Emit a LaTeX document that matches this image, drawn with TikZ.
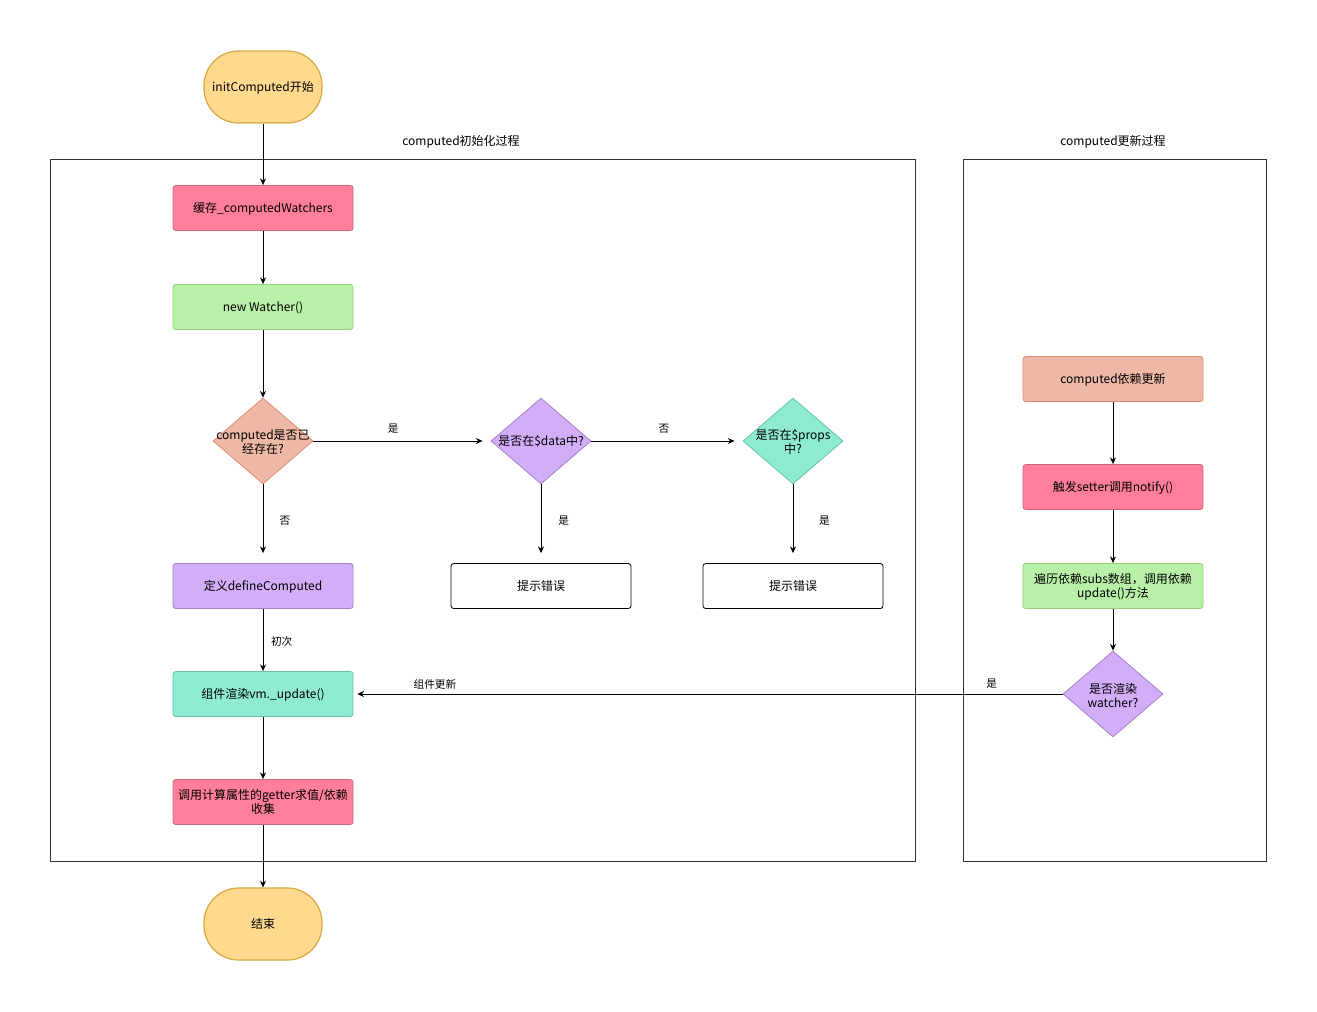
\documentclass[tikz,border=0pt]{standalone}
\usepackage{fontspec}
\setmainfont{Noto Sans CJK SC}
\usetikzlibrary{arrows.meta, positioning, shapes.geometric}

\definecolor{termfill}{HTML}{FFD98E}
\definecolor{termline}{HTML}{D6A840}
\definecolor{pinkfill}{HTML}{FF7F9B}
\definecolor{pinkline}{HTML}{C8667C}
\definecolor{greenfill}{HTML}{B9F0A8}
\definecolor{greenline}{HTML}{97D077}
\definecolor{salmonfill}{HTML}{EEB8A6}
\definecolor{salmonline}{HTML}{E08B6E}
\definecolor{purplefill}{HTML}{D3AEF8}
\definecolor{purpleline}{HTML}{A680C8}
\definecolor{tealfill}{HTML}{8EEBD2}
\definecolor{tealline}{HTML}{67C4A8}

\begin{document}
\begin{tikzpicture}[x=0.75pt,y=-0.75pt,font=\fontsize{9}{10.5}\selectfont,
  flow/.style={->,>={Stealth[length=5pt,width=4.5pt]},line width=0.75pt,black},
  frame/.style={draw=black!80,line width=0.75pt},
  term/.style={rectangle,rounded corners=26pt,minimum width=88.5pt,minimum height=54pt,line width=0.9pt,text height=7pt,text depth=1pt},
  procbox/.style={rectangle,rounded corners=2pt,minimum width=135pt,minimum height=33.75pt,align=center,inner sep=1pt,line width=0.6pt,text height=7pt,text depth=1pt},
  twoline/.style={text height=17.5pt},
  decision/.style={diamond,aspect=1.16,minimum width=75pt,minimum height=64.5pt,inner sep=0pt,line width=0.6pt},
  lbl/.style={font=\fontsize{8}{9}\selectfont,inner sep=0pt}]

  \useasboundingbox (0,0) rectangle (1317,1011);

  % frames
  \draw[frame] (50,159) rectangle (915,861);
  \draw[frame] (963,159) rectangle (1266,861);
  \node (inittitle) at (461,142) {computed初始化过程};
  \node (updtitle) at (1113,142) {computed更新过程};

  % left column
  \node[term,fill=termfill,draw=termline] (start) at (263,87) {initComputed开始};
  \node[procbox,fill=pinkfill,draw=pinkline] (cache) at (263,208) {缓存\_computedWatchers};
  \node[procbox,fill=greenfill,draw=greenline] (watcher) at (263,307) {new Watcher()};
  \node[decision,fill=salmonfill,draw=salmonline,label={[align=center,yshift=-1pt]center:computed是否已\\经存在?}] (exists) at (263,441) {};
  \node[decision,fill=purplefill,draw=purpleline,label={center:是否在\$data中?}] (indata) at (541,441) {};
  \node[decision,fill=tealfill,draw=tealline,label={[align=center,yshift=-1pt]center:是否在\$props\\中?}] (inprops) at (793,441) {};
  \node[procbox,fill=purplefill,draw=purpleline] (define) at (263,586) {定义defineComputed};
  \node[procbox,fill=white,draw=black] (err1) at (541,586) {提示错误};
  \node[procbox,fill=white,draw=black] (err2) at (793,586) {提示错误};
  \node[procbox,fill=tealfill,draw=tealline] (render) at (263,694) {组件渲染vm.\_update()};
  \node[procbox,twoline,fill=pinkfill,draw=pinkline] (getter) at (263,802) {调用计算属性的getter求值/依赖\\收集};
  \node[term,fill=termfill,draw=termline] (stop) at (263,924) {结束};

  % right column
  \node[procbox,fill=salmonfill,draw=salmonline] (depupd) at (1113,379) {computed依赖更新};
  \node[procbox,fill=pinkfill,draw=pinkline] (notify) at (1113,487) {触发setter调用notify()};
  \node[procbox,twoline,fill=greenfill,draw=greenline] (subs) at (1113,586) {遍历依赖subs数组，调用依赖\\update()方法};
  \node[decision,fill=purplefill,draw=purpleline,label={[align=center,yshift=-1pt]center:是否渲染\\watcher?}] (isrender) at (1113,694) {};

  \path[flow]
    (start) edge (cache)
    (cache) edge (watcher)
    (watcher) edge (exists)
    (exists) edge[shorten >=6pt] node[lbl,pos=0.45,yshift=9.5pt] {是} (indata)
             edge[shorten >=7.5pt] node[lbl,midway,xshift=16.5pt,yshift=2.5pt] {否} (define)
    (indata) edge[shorten >=6pt] node[lbl,pos=0.48,yshift=9.5pt] {否} (inprops)
             edge[shorten >=7.5pt] node[lbl,midway,xshift=17pt,yshift=2.5pt] {是} (err1)
    (inprops) edge[shorten >=7.5pt] node[lbl,midway,xshift=23.5pt,yshift=2.5pt] {是} (err2)
    (define) edge node[lbl,midway,xshift=14pt,yshift=-1pt] {初次} (render)
    (render) edge (getter)
    (getter) edge (stop)
    (depupd) edge (notify)
    (notify) edge (subs)
    (subs) edge (isrender)
    (isrender) edge[shorten >=3pt] node[lbl,pos=0.1,yshift=7.5pt] {是}
                                   node[lbl,pos=0.885,yshift=7.5pt] {组件更新} (render);
\end{tikzpicture}
\end{document}
